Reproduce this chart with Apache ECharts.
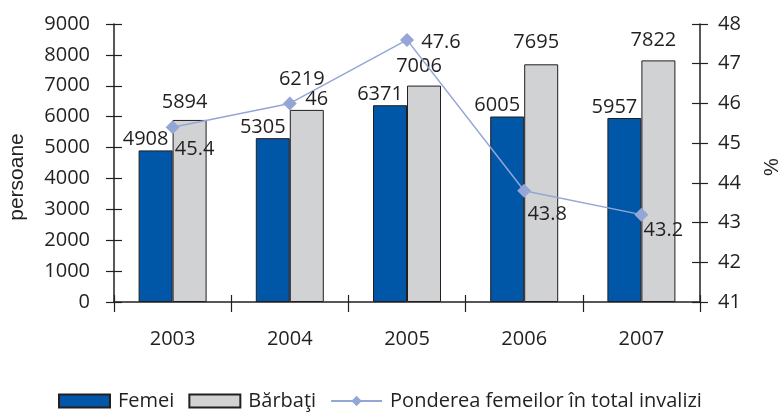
<!DOCTYPE html>
<html>
<head>
<meta charset="utf-8">
<script src="https://cdn.jsdelivr.net/npm/echarts@6/dist/echarts.min.js"></script>
<style>
  html, body { margin: 0; padding: 0; background: #fff; }
  #chart { width: 780px; height: 412px; }
</style>
</head>
<body>
<div id="chart"></div>
<script>
// date
const years = ['2003', '2004', '2005', '2006', '2007']
const femei = [4908, 5305, 6371, 6005, 5957]
const barbati = [5894, 6219, 7006, 7695, 7822]
const pondere = [45.4, 46, 47.6, 43.8, 43.2]

const font = '"Open Sans", sans-serif'
const txt = { color: '#231f20', fontSize: 20, fontFamily: font }
const dark = '#231f20'

// poziția etichetelor pentru linie (față de punct)
const lineLabelOffsets = [[22, 22], [27, -4], [34, 2], [23, 23], [22, 16]]
// distanța etichetelor de deasupra barelor gri
const barbatiLabelDist = [8, 21, 9, 12, 10]

const chart = echarts.init(document.getElementById('chart'))

const axisLine = { show: true, lineStyle: { color: dark, width: 1.5 } }
const tick = (len, inside) => ({ show: true, length: len, inside: inside, lineStyle: { color: dark, width: 1.2 } })

chart.setOption({
  animation: false,
  textStyle: { fontFamily: font },
  grid: { left: 114, right: 80, top: 24, bottom: 110, outerBoundsMode: 'none' },
  legend: {
    top: 386,
    left: 53,
    itemWidth: 51,
    itemHeight: 13,
    itemGap: 14,
    textStyle: { ...txt, padding: [0, 0, 0, 3] },
    data: [
      { name: 'Femei', icon: 'rect' },
      { name: 'Bărbaţi', icon: 'rect' },
      { name: 'Ponderea femeilor în total invalizi' }
    ]
  },
  xAxis: [
    {
      type: 'category',
      data: years,
      axisLine: axisLine,
      axisTick: tick(10, false),
      axisLabel: { ...txt, margin: 27 }
    },
    {
      type: 'category',
      data: years,
      position: 'bottom',
      axisLine: { show: false },
      axisTick: tick(7, true),
      axisLabel: { show: false }
    }
  ],
  yAxis: [
    {
      type: 'value',
      min: 0, max: 9000, interval: 1000,
      name: 'persoane',
      nameLocation: 'middle',
      nameGap: 86,
      nameTextStyle: { color: dark, fontSize: 21, fontFamily: '"Liberation Sans", Arial, sans-serif', padding: [0, 28, 0, 0] },
      axisLine: axisLine,
      axisTick: tick(8, false),
      axisLabel: { ...txt, margin: 24, formatter: v => String(v) },
      splitLine: { show: false }
    },
    {
      type: 'value',
      min: 41, max: 48, interval: 1,
      position: 'right',
      name: '%',
      nameLocation: 'middle',
      nameGap: 62,
      nameRotate: 90,
      nameTextStyle: { color: dark, fontSize: 20, fontFamily: '"Liberation Sans", Arial, sans-serif', padding: [0, 8, 0, 0] },
      axisLine: axisLine,
      axisTick: tick(8, false),
      axisLabel: { ...txt, margin: 18 },
      splitLine: { show: false }
    },
    {
      type: 'value',
      min: 0, max: 9000, interval: 1000,
      position: 'left',
      axisLine: { show: false },
      axisTick: tick(8, true),
      axisLabel: { show: false },
      splitLine: { show: false }
    },
    {
      type: 'value',
      min: 41, max: 48, interval: 1,
      position: 'right',
      axisLine: { show: false },
      axisTick: tick(8, true),
      axisLabel: { show: false },
      splitLine: { show: false }
    }
  ],
  series: [
    {
      name: 'Femei',
      type: 'bar',
      data: femei,
      barWidth: 34,
      barGap: '0%',
      itemStyle: { color: '#0057a8', borderColor: dark, borderWidth: 1 },
      label: { show: true, position: 'top', offset: [-10, 0], distance: 1, ...txt }
    },
    {
      name: 'Bărbaţi',
      type: 'bar',
      data: barbati.map((v, i) => ({ value: v, label: { distance: barbatiLabelDist[i] } })),
      barWidth: 34,
      itemStyle: { color: '#d1d2d4', borderColor: dark, borderWidth: 1 },
      label: { show: true, position: 'top', offset: [-5, 0], ...txt }
    },
    {
      name: 'Ponderea femeilor în total invalizi',
      type: 'line',
      yAxisIndex: 1,
      data: pondere.map((v, i) => ({
        value: v,
        label: { offset: lineLabelOffsets[i] }
      })),
      symbol: 'diamond',
      symbolSize: 14,
      lineStyle: { color: '#94a6d6', width: 1.5 },
      itemStyle: { color: '#94a6d6' },
      label: { show: true, position: 'inside', ...txt },
      z: 5
    }
  ]
})
</script>
</body>
</html>
